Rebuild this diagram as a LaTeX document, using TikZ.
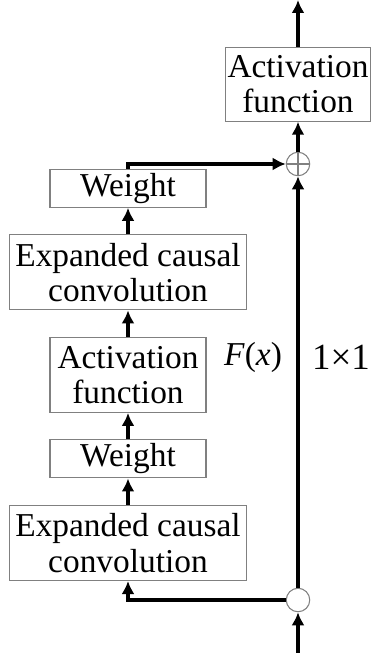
\documentclass[tikz,border=0pt]{standalone}
\usepackage{fontspec}
\setmainfont{Liberation Serif}
\usetikzlibrary{arrows.meta, positioning}

\begin{document}
\begin{tikzpicture}[
    node distance=0.53cm,
    block/.style={rectangle, draw=gray, line width=0.6pt, fill=white, align=center, minimum width=3.12cm, minimum height=0.76cm, inner sep=1pt, font=\fontsize{19}{20}\selectfont},
    wideblock/.style={block, minimum width=4.74cm, minimum height=1.5cm},
    tallblock/.style={block, minimum height=1.5cm},
    junction/.style={circle, draw=gray, line width=0.6pt, fill=white, minimum size=0.47cm, inner sep=0pt},
    flow/.style={-{Latex[length=2.6mm,width=2.6mm]}, line width=2.1pt}
]
\useasboundingbox (0,0) rectangle (7.42,-13.06);

% Residual branch
\node[wideblock] (conv1) at (2.56,-10.86) {Expanded causal\\convolution};
\node[block, above=of conv1] (w1) {Weight};
\node[tallblock, above=of w1] (act1) {Activation\\function};
\node[wideblock, above=of act1] (conv2) {Expanded causal\\convolution};
\node[block, above=of conv2] (w2) {Weight};

% Skip path
\node[junction] (split) at (5.96,-12.0) {};
\node[junction] (plus) at (5.96,-3.28) {};
\draw[gray, line width=0.6pt] (plus.north) -- (plus.south) (plus.west) -- (plus.east);
\node[block, minimum width=2.9cm, minimum height=1.48cm, above=0.6cm of plus] (act2) {Activation\\function};

\coordinate (in) at (5.96,-13.06);
\coordinate (out) at (5.96,0);

% Labels
\node[font=\fontsize{19}{20}\selectfont] (fx) at (5.06,-7.14) {\textit{F}(\textit{x})};
\node[font=\fontsize{21}{22}\selectfont] (conv11) at (6.82,-7.14) {1×1};

% Arrows
\draw[flow] (in) -- (split);
\draw[flow] (split.west) -| (conv1.south);
\draw[flow] (conv1) -- (w1);
\draw[flow] (w1) -- (act1);
\draw[flow] (act1) -- (conv2);
\draw[flow] (conv2) -- (w2);
\draw[flow] (w2.north) |- (plus.west);
\draw[flow] (split) -- (plus);
\draw[flow] (plus) -- (act2);
\draw[flow] (act2) -- (out);

\end{tikzpicture}
\end{document}
